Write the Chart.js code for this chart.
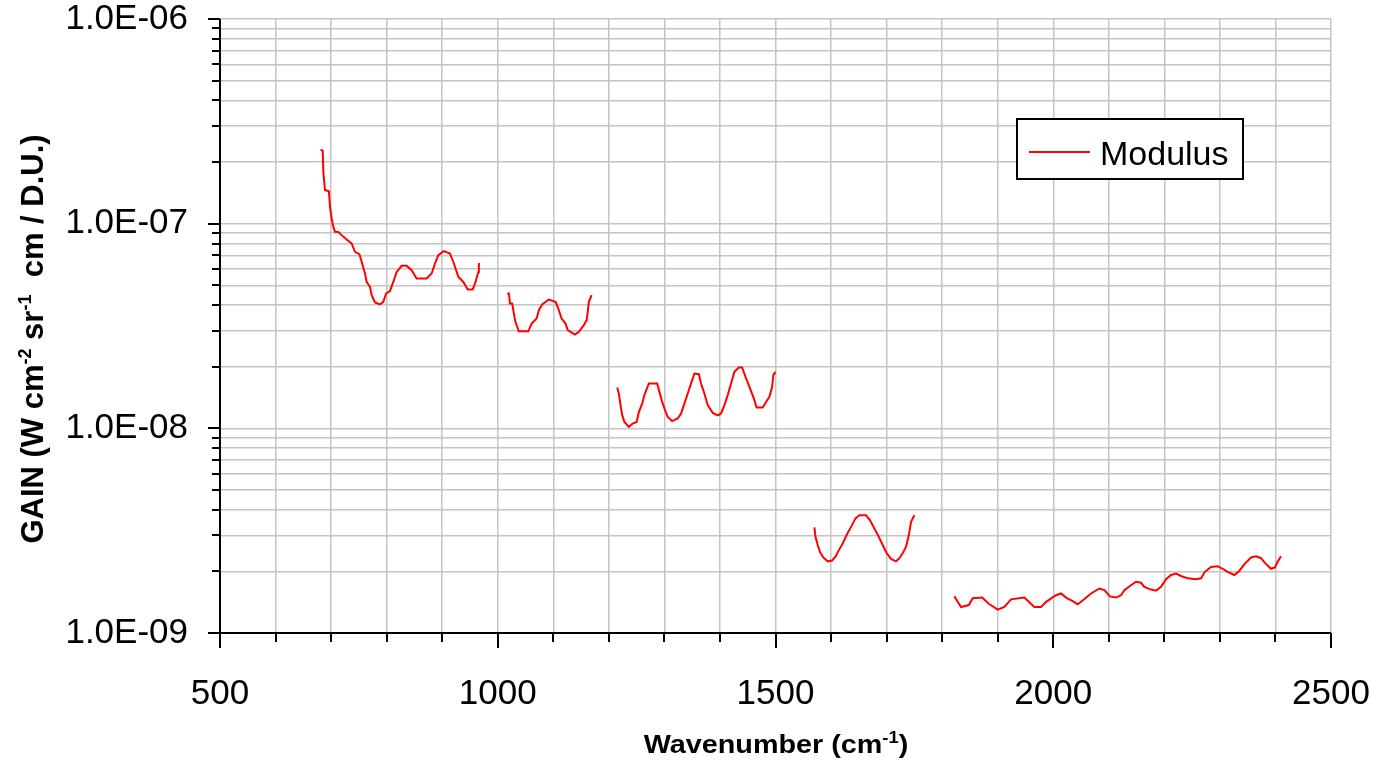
<!DOCTYPE html>
<html>
<head>
<meta charset="utf-8">
<script src="https://cdn.jsdelivr.net/npm/chart.js@4.4.1/dist/chart.umd.min.js"></script>
<style>
  html, body { margin: 0; padding: 0; background: #fff; }
  #wrap { width: 1386px; height: 772px; }
</style>
</head>
<body>
<div id="wrap"><canvas id="grafico"></canvas></div>
<script>
// Datos (numero de onda en cm-1, ganancia)
const wn1 = [681, 685, 686, 689, 696, 698, 701, 704, 707, 713, 719, 728, 737, 743, 751, 755, 761, 764, 770, 773, 779, 788, 794, 799, 806, 812, 818, 827, 836, 845, 854, 872, 881, 887, 893, 903, 914, 921, 929, 938, 946, 955, 960, 965, 966];
const gain1 = [2.30e-7, 2.27e-7, 1.79e-7, 1.46e-7, 1.44e-7, 1.21e-7, 1.06e-7, 9.65e-8, 9.12e-8, 9.10e-8, 8.79e-8, 8.37e-8, 8.00e-8, 7.28e-8, 7.10e-8, 6.51e-8, 5.71e-8, 5.19e-8, 4.91e-8, 4.47e-8, 4.12e-8, 4.03e-8, 4.15e-8, 4.56e-8, 4.69e-8, 5.19e-8, 5.81e-8, 6.22e-8, 6.22e-8, 5.93e-8, 5.40e-8, 5.40e-8, 5.71e-8, 6.39e-8, 7.02e-8, 7.34e-8, 7.15e-8, 6.39e-8, 5.50e-8, 5.19e-8, 4.77e-8, 4.77e-8, 5.19e-8, 5.81e-8, 6.43e-8];

const wn2 = [1017, 1020, 1022, 1026, 1031, 1034, 1038, 1055, 1061, 1070, 1074, 1080, 1092, 1104, 1109, 1115, 1122, 1126, 1139, 1146, 1155, 1160, 1162, 1164, 1169];
const gain2 = [4.56e-8, 4.56e-8, 4.07e-8, 4.07e-8, 3.38e-8, 3.19e-8, 2.98e-8, 2.98e-8, 3.25e-8, 3.44e-8, 3.78e-8, 4.03e-8, 4.26e-8, 4.15e-8, 3.85e-8, 3.44e-8, 3.25e-8, 3.02e-8, 2.87e-8, 2.96e-8, 3.19e-8, 3.38e-8, 3.71e-8, 4.15e-8, 4.47e-8];

const wn3 = [1215, 1218, 1221, 1224, 1228, 1236, 1243, 1250, 1254, 1260, 1264, 1272, 1287, 1291, 1296, 1300, 1306, 1314, 1324, 1330, 1336, 1342, 1349, 1354, 1362, 1366, 1372, 1378, 1387, 1396, 1402, 1408, 1414, 1420, 1426, 1434, 1440, 1446, 1453, 1461, 1466, 1477, 1483, 1489, 1494, 1496, 1500];
const gain3 = [1.584e-8, 1.48e-8, 1.298e-8, 1.16e-8, 1.075e-8, 1.017e-8, 1.056e-8, 1.075e-8, 1.20e-8, 1.32e-8, 1.453e-8, 1.656e-8, 1.656e-8, 1.507e-8, 1.346e-8, 1.25e-8, 1.138e-8, 1.084e-8, 1.117e-8, 1.182e-8, 1.32e-8, 1.48e-8, 1.687e-8, 1.853e-8, 1.839e-8, 1.656e-8, 1.48e-8, 1.298e-8, 1.19e-8, 1.156e-8, 1.182e-8, 1.298e-8, 1.453e-8, 1.656e-8, 1.887e-8, 1.983e-8, 1.983e-8, 1.784e-8, 1.594e-8, 1.40e-8, 1.265e-8, 1.265e-8, 1.346e-8, 1.425e-8, 1.594e-8, 1.819e-8, 1.887e-8];

const wn4 = [1570, 1572, 1576, 1580, 1586, 1594, 1602, 1608, 1614, 1621, 1628, 1636, 1644, 1651, 1663, 1670, 1678, 1686, 1693, 1700, 1708, 1717, 1723, 1729, 1735, 1740, 1744, 1750];
const gain4 = [3.28e-9, 2.95e-9, 2.69e-9, 2.49e-9, 2.34e-9, 2.24e-9, 2.26e-9, 2.36e-9, 2.54e-9, 2.74e-9, 3.01e-9, 3.30e-9, 3.63e-9, 3.76e-9, 3.76e-9, 3.56e-9, 3.24e-9, 2.95e-9, 2.69e-9, 2.46e-9, 2.30e-9, 2.24e-9, 2.32e-9, 2.45e-9, 2.64e-9, 3.01e-9, 3.49e-9, 3.76e-9];

const wn5 = [1822, 1828, 1834, 1848, 1855, 1872, 1884, 1900, 1912, 1924, 1948, 1956, 1966, 1978, 1987, 2005, 2014, 2023, 2035, 2044, 2053, 2068, 2083, 2092, 2102, 2113, 2122, 2128, 2140, 2149, 2158, 2164, 2176, 2185, 2194, 2203, 2212, 2221, 2230, 2242, 2257, 2266, 2273, 2284, 2296, 2305, 2314, 2326, 2335, 2344, 2356, 2365, 2374, 2381, 2392, 2399, 2404, 2410];
const gain5 = [1.51e-9, 1.42e-9, 1.34e-9, 1.37e-9, 1.48e-9, 1.49e-9, 1.39e-9, 1.30e-9, 1.34e-9, 1.46e-9, 1.49e-9, 1.42e-9, 1.34e-9, 1.34e-9, 1.42e-9, 1.53e-9, 1.56e-9, 1.49e-9, 1.43e-9, 1.38e-9, 1.44e-9, 1.56e-9, 1.65e-9, 1.62e-9, 1.51e-9, 1.49e-9, 1.53e-9, 1.62e-9, 1.71e-9, 1.78e-9, 1.76e-9, 1.68e-9, 1.63e-9, 1.61e-9, 1.68e-9, 1.83e-9, 1.92e-9, 1.95e-9, 1.90e-9, 1.85e-9, 1.83e-9, 1.85e-9, 1.99e-9, 2.10e-9, 2.12e-9, 2.06e-9, 1.99e-9, 1.92e-9, 2.01e-9, 2.17e-9, 2.34e-9, 2.37e-9, 2.32e-9, 2.20e-9, 2.06e-9, 2.09e-9, 2.23e-9, 2.37e-9];

// Ejes
const xLabels = [500, 1000, 1500, 2000, 2500];
const yDecadas = [1e-9, 1e-8, 1e-7, 1e-6];
const yMinor = [2, 3, 4, 5, 6, 7, 8, 9];
const serieNombre = 'Modulus';

const yTickValues = [];
yDecadas.forEach((d, i) => {
  yTickValues.push(d);
  if (i < yDecadas.length - 1) yMinor.forEach(m => yTickValues.push(m * d));
});

const segmentos = [[wn1, gain1], [wn2, gain2], [wn3, gain3], [wn4, gain4], [wn5, gain5]];
const puntos = [];
segmentos.forEach(([wn, g], i) => {
  if (i > 0) {
    const prev = segmentos[i - 1][0];
    puntos.push({ x: (prev[prev.length - 1] + wn[0]) / 2, y: null });
  }
  wn.forEach((w, k) => puntos.push({ x: w, y: g[k] }));
});

function esDecada(v) {
  const l = Math.log10(v);
  return Math.abs(l - Math.round(l)) < 1e-6;
}

function formatoE(v) {
  const e = Math.round(Math.log10(v));
  return '1.0E' + (e < 0 ? '-' : '+') + String(Math.abs(e)).padStart(2, '0');
}

const fuente = "'Liberation Sans', Arial, sans-serif";

// texto con superindices: partes [texto, esSup]
function dibujarPartes(ctx, partes, tam, tamSup, subida, escalaX) {
  const anchos = partes.map(([t, sup]) => {
    ctx.font = 'bold ' + (sup ? tamSup : tam) + 'px ' + fuente;
    return ctx.measureText(t).width;
  });
  const total = anchos.reduce((a, b) => a + b, 0);
  ctx.scale(escalaX, 1);
  let x = -total / 2;
  partes.forEach(([t, sup], i) => {
    ctx.font = 'bold ' + (sup ? tamSup : tam) + 'px ' + fuente;
    ctx.fillText(t, x, sup ? -subida : 0);
    x += anchos[i];
  });
}

// quita el margen extra que Chart.js reserva para las etiquetas
function sinRelleno(s) {
  s.paddingTop = 0;
  s.paddingBottom = 0;
  s.paddingLeft = 0;
  s.paddingRight = 0;
}

const decoraciones = {
  id: 'decoraciones',
  afterDraw(chart) {
    const ctx = chart.ctx;
    const { left, right, top, bottom } = chart.chartArea;
    const sx = chart.scales.x;
    const sy = chart.scales.y;
    ctx.save();
    ctx.strokeStyle = '#000';
    ctx.lineWidth = 2;
    ctx.beginPath();
    ctx.moveTo(left, top);
    ctx.lineTo(left, bottom);
    ctx.moveTo(left - 12, bottom);
    ctx.lineTo(right, bottom);
    // marcas eje y
    sy.ticks.forEach(t => {
      const py = Math.round(sy.getPixelForValue(t.value));
      const largo = esDecada(t.value) ? 12 : 8;
      ctx.moveTo(left - largo, py);
      ctx.lineTo(left, py);
    });
    // marcas eje x
    sx.ticks.forEach(t => {
      const px = Math.round(sx.getPixelForValue(t.value));
      const largo = t.value % 500 === 0 ? 15 : 9;
      ctx.moveTo(px, bottom);
      ctx.lineTo(px, bottom + largo);
    });
    ctx.stroke();

    // titulos
    ctx.fillStyle = '#000';
    ctx.textAlign = 'left';
    ctx.textBaseline = 'alphabetic';
    ctx.save();
    ctx.translate(776, 753);
    dibujarPartes(ctx, [['Wavenumber (cm', false], ['-1', true], [')', false]], 25, 16, 10, 1.15);
    ctx.restore();

    ctx.save();
    ctx.translate(43, 339);
    ctx.rotate(-Math.PI / 2);
    dibujarPartes(ctx, [['GAIN (W cm', false], ['-2', true], [' sr', false], ['-1', true], ['  cm / D.U.)', false]], 31, 18, 12, 1);
    ctx.restore();

    // leyenda
    const ds = chart.data.datasets[0];
    ctx.fillStyle = '#fff';
    ctx.fillRect(1017, 119, 226, 60);
    ctx.strokeStyle = '#000';
    ctx.lineWidth = 2;
    ctx.strokeRect(1017, 119, 226, 60);
    ctx.strokeStyle = ds.borderColor;
    ctx.beginPath();
    ctx.moveTo(1029, 152);
    ctx.lineTo(1090, 152);
    ctx.stroke();
    ctx.fillStyle = '#000';
    ctx.font = '34px ' + fuente;
    ctx.fillText(ds.label, 1100, 165);
    ctx.restore();
  }
};

new Chart(document.getElementById('grafico'), {
  type: 'line',
  data: {
    datasets: [{
      label: serieNombre,
      data: puntos,
      borderColor: '#ff0000',
      borderWidth: 2,
      pointRadius: 0,
      tension: 0,
      spanGaps: false
    }]
  },
  options: {
    animation: false,
    responsive: true,
    maintainAspectRatio: false,
    layout: { padding: { top: 19, right: 55, left: 0, bottom: 0 } },
    plugins: {
      legend: { display: false },
      tooltip: { enabled: false }
    },
    scales: {
      x: {
        type: 'linear',
        min: 500,
        max: 2500,
        afterFit: s => { s.height = 139; sinRelleno(s); },
        grid: { color: '#c4c4c4', lineWidth: 1.5, drawTicks: false },
        border: { display: false },
        ticks: {
          stepSize: 100,
          autoSkip: false,
          maxRotation: 0,
          padding: 40,
          color: '#000',
          font: { family: fuente, size: 35 },
          callback: v => (xLabels.includes(v) ? String(v) : '')
        }
      },
      y: {
        type: 'logarithmic',
        min: 1e-9,
        max: 1e-6,
        afterFit: s => { s.width = 220; sinRelleno(s); },
        afterBuildTicks: s => { s.ticks = yTickValues.map(v => ({ value: v })); },
        grid: { color: '#c4c4c4', lineWidth: 1.5, drawTicks: false },
        border: { display: false },
        ticks: {
          autoSkip: false,
          padding: 32,
          color: '#000',
          font: { family: fuente, size: 35 },
          callback: v => (esDecada(v) ? formatoE(v) : '')
        }
      }
    }
  },
  plugins: [decoraciones]
});
</script>
</body>
</html>
